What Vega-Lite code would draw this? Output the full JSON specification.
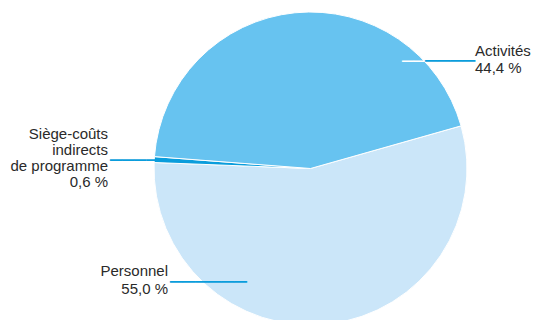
{
  "$schema": "https://vega.github.io/schema/vega-lite/v6.json",
  "width": 449,
  "height": 303,
  "autosize": "none",
  "padding": {"left": 86, "top": 17, "right": 0, "bottom": 0},
  "background": "white",
  "config": {"view": {"stroke": null}},
  "data": {
    "values": [
      {"cat": "Personnel", "value": 55.0, "order": 1, "label": ["Personnel", "55,0 %"]},
      {"cat": "Siège", "value": 0.6, "order": 2, "label": ["Siège-coûts", "indirects", "de programme", "0,6 %"]},
      {"cat": "Activités", "value": 44.4, "order": 3, "label": ["Activités", "44,4 %"]}
    ]
  },
  "transform": [
    {"stack": "value", "groupby": [], "sort": [{"field": "order", "order": "ascending"}], "as": ["v0", "v1"]}
  ],
  "encoding": {
    "theta": {"type": "quantitative", "scale": {"type": "linear", "domain": [0, 100], "range": [1.295, 7.578], "zero": false, "nice": false}}
  },
  "layer": [
    {
      "mark": {"type": "arc", "outerRadius": 156.5, "stroke": "white", "strokeWidth": 1},
      "encoding": {
        "theta": {"field": "v0", "type": "quantitative", "scale": {"type": "linear", "domain": [0, 100], "range": [1.295, 7.578], "zero": false, "nice": false}},
        "theta2": {"field": "v1"},
        "color": {"field": "cat", "type": "nominal", "scale": {"domain": ["Personnel", "Siège", "Activités"], "range": ["#cbe6f9", "#0a9ddc", "#67c3f0"]}, "legend": null}
      }
    },
    {
      "transform": [{"filter": "datum.cat == 'Activités'"}],
      "mark": {"type": "text", "radius": 156.5, "dx": 13.9, "dy": -69.9, "align": "left", "baseline": "alphabetic", "font": "Liberation Sans", "fontSize": 15, "lineHeight": 17.3, "color": "#2a2a2a"},
      "encoding": {"theta": {"field": "v1", "type": "quantitative"}, "text": {"field": "label", "type": "nominal"}}
    },
    {
      "transform": [{"filter": "datum.cat == 'Activités'"}],
      "mark": {"type": "text", "radius": 156.5, "dx": -59.1, "dy": -64.3, "align": "left", "baseline": "middle", "font": "DejaVu Sans", "fontSize": 19.1, "color": "white", "text": "──"},
      "encoding": {"theta": {"field": "v1", "type": "quantitative"}}
    },
    {
      "transform": [{"filter": "datum.cat == 'Activités'"}],
      "mark": {"type": "text", "radius": 156.5, "dx": -36.1, "dy": -64.2, "align": "left", "baseline": "middle", "font": "DejaVu Sans", "fontSize": 20.8, "color": "#0a9ddc", "text": "────"},
      "encoding": {"theta": {"field": "v1", "type": "quantitative"}}
    },
    {
      "transform": [{"filter": "datum.cat == 'Siège'"}],
      "mark": {"type": "text", "radius": 156.5, "dx": -46.1, "dy": -24, "align": "right", "baseline": "alphabetic", "font": "Liberation Sans", "fontSize": 15, "lineHeight": 16, "color": "#2a2a2a"},
      "encoding": {"theta": {"field": "v0", "type": "quantitative"}, "text": {"field": "label", "type": "nominal"}}
    },
    {
      "transform": [{"filter": "datum.cat == 'Siège'"}],
      "mark": {"type": "text", "radius": 156.5, "dx": -44.1, "dy": -1.5, "align": "left", "baseline": "middle", "font": "DejaVu Sans", "fontSize": 20, "color": "#0a9ddc", "text": "────"},
      "encoding": {"theta": {"field": "v0", "type": "quantitative"}}
    },
    {
      "transform": [{"filter": "datum.cat == 'Personnel'"}],
      "mark": {"type": "text", "radius": 156.5, "dx": 13.9, "dy": 113.5, "align": "right", "baseline": "alphabetic", "font": "Liberation Sans", "fontSize": 15, "lineHeight": 18, "color": "#2a2a2a"},
      "encoding": {"theta": {"field": "v1", "type": "quantitative"}, "text": {"field": "label", "type": "nominal"}}
    },
    {
      "transform": [{"filter": "datum.cat == 'Personnel'"}],
      "mark": {"type": "text", "radius": 156.5, "dx": 15.9, "dy": 120.2, "align": "left", "baseline": "middle", "font": "DejaVu Sans", "fontSize": 21.3, "color": "#0a9ddc", "text": "──────"},
      "encoding": {"theta": {"field": "v1", "type": "quantitative"}}
    }
  ]
}
